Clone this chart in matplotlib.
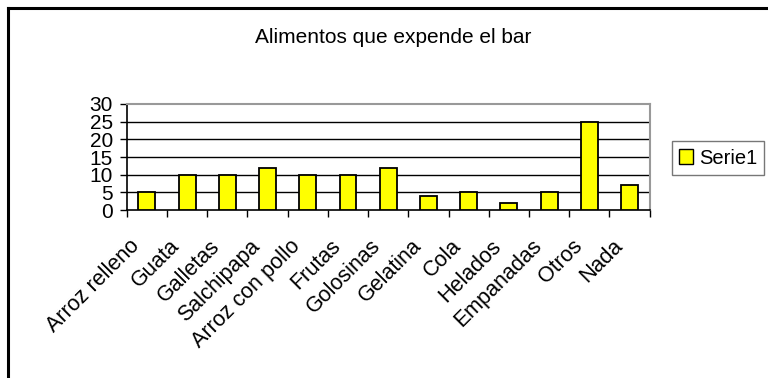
import matplotlib.pyplot as plt
from matplotlib.lines import Line2D
from matplotlib.patches import Patch

plt.rcParams['font.family'] = ['Liberation Sans', 'DejaVu Sans']

# foods sold at the bar and number of answers
alimentos = ['Arroz relleno', 'Guata', 'Galletas', 'Salchipapa', 'Arroz con pollo',
             'Frutas', 'Golosinas', 'Gelatina', 'Cola', 'Helados', 'Empanadas',
             'Otros', 'Nada']
serie1 = [5, 10, 10, 12, 10, 10, 12, 4, 5, 2, 5, 25, 7]
yticks = [0, 5, 10, 15, 20, 25, 30]

fig = plt.figure(figsize=(7.68, 3.78), dpi=100)
ax = fig.add_axes([0.165, 0.444, 0.681, 0.281])

x = range(len(alimentos))
ax.bar(x, serie1, width=0.42, color='#FFFF00', edgecolor='black', linewidth=1.3, zorder=3)

ax.set_xlim(-0.5, len(alimentos) - 0.5)
ax.set_ylim(0, 30)
ax.set_yticks(yticks)
ax.set_yticklabels([str(v) for v in yticks], fontsize=15)
ax.tick_params(axis='y', length=5, pad=5, width=1)

# category ticks sit on the boundaries between bars
ax.set_xticks([i - 0.5 for i in range(len(alimentos) + 1)])
ax.set_xticklabels([])
ax.tick_params(axis='x', length=5, width=1, direction='out')
for i, name in enumerate(alimentos):
    ax.text(i - 0.26, -9.3, name, rotation=45, ha='right', va='center',
            rotation_mode='anchor', fontsize=15.5)

for v in yticks[1:-1]:
    ax.axhline(v, color='black', linewidth=1, zorder=1)

ax.spines['top'].set_color('#999999')
ax.spines['right'].set_color('#999999')
ax.spines['top'].set_linewidth(1.5)
ax.spines['right'].set_linewidth(1.5)
ax.spines['left'].set_linewidth(1.2)
ax.spines['bottom'].set_linewidth(1.2)

fig.text(0.512, 0.902, 'Alimentos que expende el bar', ha='center', va='center', fontsize=15)

leg = fig.legend(handles=[Patch(facecolor='#FFFF00', edgecolor='black', label='Serie1')],
                 loc='center left', bbox_to_anchor=(0.875, 0.582), fontsize=14.5,
                 fancybox=False, edgecolor='#555555', handlelength=0.7, handleheight=0.7,
                 handletextpad=0.3, borderpad=0.35, borderaxespad=0)
leg.get_frame().set_linewidth(1)

# outer frame on top and left
fig.add_artist(Line2D([0.011, 1.0], [0.979, 0.979], transform=fig.transFigure,
                      color='black', linewidth=2.2))
fig.add_artist(Line2D([0.011, 0.011], [0.0, 0.979], transform=fig.transFigure,
                      color='black', linewidth=2.2))

fig.savefig('out.png', dpi=100)
